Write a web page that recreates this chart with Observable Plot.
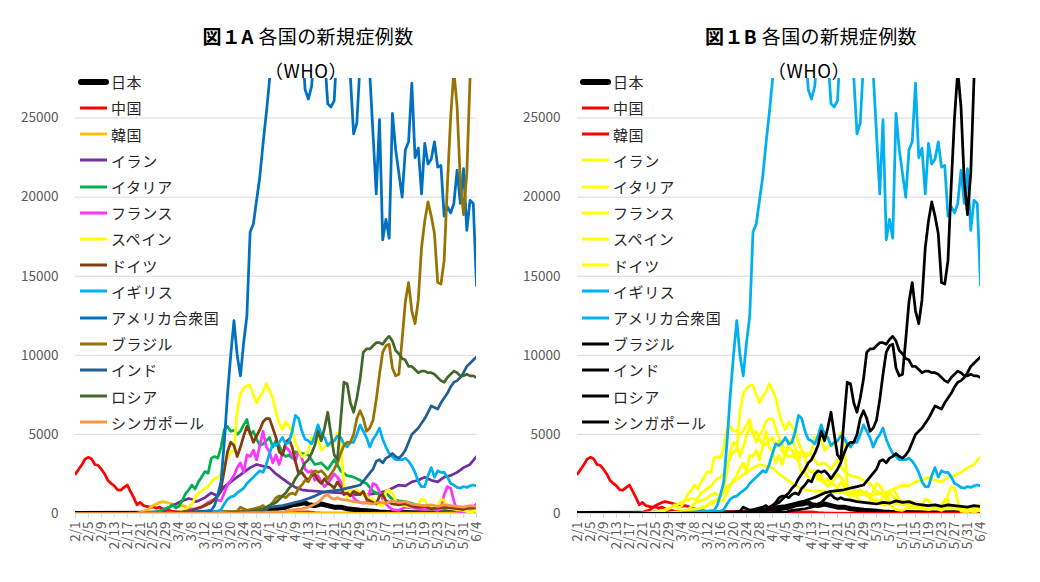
<!DOCTYPE html>
<html><head><meta charset="utf-8">
<script src="https://cdn.jsdelivr.net/npm/d3@7"></script>
<script src="https://cdn.jsdelivr.net/npm/@observablehq/plot@0.6"></script>
<style>
body{margin:0;background:#fff;font-family:"Noto Sans CJK JP",sans-serif;}
#wrap{position:relative;width:1040px;height:582px;overflow:hidden;background:#fff;}
.panel{position:absolute;top:0;}
.title{position:absolute;font-size:19px;color:#000;white-space:nowrap;transform:translate(-50%,-50%);letter-spacing:0.4px;z-index:2;}
.title b{font-weight:700;}
.who{font-size:18.5px;letter-spacing:0.5px;}
.leg{position:absolute;height:20px;display:flex;align-items:center;font-size:15px;letter-spacing:0.6px;color:#262626;white-space:nowrap;z-index:2;}
.leg svg{display:block;margin-right:1px;}
</style>
</head><body>
<div id="wrap"></div>
<script>
// ---------- data ----------
const dayLabels = ["2/1","2/5","2/9","2/13","2/17","2/21","2/25","2/29","3/4","3/8","3/12","3/16","3/20","3/24","3/28","4/1","4/5","4/9","4/13","4/17","4/21","4/25","4/29","5/3","5/7","5/11","5/15","5/19","5/23","5/27","5/31","6/4"];
const yTicks = [0,5000,10000,15000,20000,25000];
const countries = ["日本","中国","韓国","イラン","イタリア","フランス","スペイン","ドイツ","イギリス","アメリカ合衆国","ブラジル","インド","ロシア","シンガポール"];
const colorsA = ["#000000","#FF0000","#FFC000","#7030A0","#00B050","#FF33FF","#FFFF00","#843C0C","#00B0F0","#0070C0","#997300","#255E91","#43682B","#F79646"];
const colorsB = ["#000000","#FF0000","#FF0000","#FFFF00","#FFFF00","#FFFF00","#FFFF00","#FFFF00","#00B0F0","#00B0F0","#000000","#000000","#000000","#000000"];

// [day index from 2/1, new cases]
const japan = [[0,5],[28,10],[36,30],[44,40],[50,60],[54,100],[57,150],[59,200],[61,250],[63,350],[65,400],[67,550],[69,600],[70,650],[71,700],[72,550],[74,500],[76,600],[78,500],[80,400],[82,400],[84,300],[86,250],[88,200],[90,180],[92,150],[94,100],[96,80],[100,60],[104,40],[110,30],[116,40],[120,40],[124,40]];
const china = [[0,2500],[1,2800],[2,3100],[3,3450],[4,3550],[5,3450],[6,3100],[7,3050],[8,2800],[9,2500],[10,2100],[11,1900],[12,1750],[13,1500],[14,1480],[15,1650],[16,1800],[17,1400],[18,1000],[19,550],[20,700],[21,500],[22,450],[23,400],[24,420],[25,330],[26,400],[27,300],[28,200],[29,200],[30,130],[32,120],[34,150],[36,50],[38,40],[40,20],[44,30],[48,60],[52,80],[56,50],[60,60],[64,50],[68,80],[72,100],[74,50],[76,30],[80,20],[90,5],[100,10],[110,5],[124,5]];
const korea = [[0,0],[18,0],[19,20],[20,50],[21,150],[22,200],[23,350],[24,500],[25,600],[26,700],[27,750],[28,700],[29,650],[30,600],[31,500],[32,450],[33,500],[34,450],[35,350],[36,300],[37,250],[38,200],[40,130],[42,100],[44,80],[48,100],[52,100],[56,100],[60,80],[64,50],[70,30],[80,15],[90,10],[100,30],[110,30],[116,40],[120,40],[124,40]];
const iran = [[0,0],[19,0],[22,30],[25,100],[27,200],[29,400],[31,600],[33,800],[35,950],[36,900],[37,750],[38,800],[40,1000],[42,1300],[43,1200],[44,1100],[46,1700],[48,2000],[50,2300],[52,2600],[54,2900],[56,3100],[58,3000],[60,2900],[62,2500],[64,2200],[66,1900],[68,1650],[70,1500],[72,1450],[75,1400],[78,1350],[82,1300],[86,1200],[90,1200],[94,1300],[97,1500],[100,1800],[102,1750],[104,2000],[106,2100],[108,2300],[110,2100],[112,2000],[114,2300],[116,2400],[118,2600],[120,2900],[122,3100],[124,3600]];
const italy = [[0,0],[21,20],[23,70],[25,100],[27,250],[29,400],[30,560],[31,350],[32,470],[33,800],[34,1250],[35,1490],[36,1800],[37,1550],[38,2000],[39,2300],[40,2650],[41,2550],[42,3500],[43,3600],[44,3500],[45,4200],[46,5300],[47,5500],[48,5200],[49,5250],[50,5000],[51,5200],[52,5600],[53,5950],[54,5000],[55,5200],[56,4700],[57,4300],[58,4400],[59,4600],[60,4800],[61,4200],[62,4600],[63,4300],[64,3800],[65,3600],[66,3700],[67,3500],[68,3900],[70,3800],[72,3700],[74,3100],[76,3200],[78,2800],[80,3400],[82,2700],[84,2400],[86,2300],[88,2100],[90,1900],[92,1400],[94,1200],[96,1300],[98,900],[100,800],[102,750],[104,650],[106,500],[108,450],[110,350],[112,400],[114,300],[116,350],[118,300],[120,250],[122,300],[124,200]];
const france = [[0,0],[22,20],[26,30],[29,50],[31,100],[33,150],[35,250],[37,300],[39,400],[41,700],[42,800],[43,900],[44,850],[45,800],[46,1300],[47,1800],[48,2100],[49,2400],[50,2900],[51,3200],[52,2600],[53,3700],[54,3600],[55,4000],[56,3400],[57,4300],[58,5200],[59,4200],[60,3900],[61,3200],[62,3700],[63,3100],[64,3800],[65,4200],[66,4000],[67,3600],[68,3300],[69,4000],[70,3500],[71,2800],[72,2600],[73,2700],[74,2100],[75,2400],[76,2000],[77,1700],[78,1900],[79,2200],[80,2500],[81,2300],[82,2000],[83,1700],[84,1100],[85,1500],[86,1000],[87,800],[88,700],[89,650],[90,700],[91,1400],[92,1900],[93,1800],[94,1400],[95,900],[96,600],[97,400],[98,250],[100,200],[102,400],[104,350],[106,300],[108,250],[110,350],[112,200],[113,300],[114,1200],[115,1700],[116,1600],[117,800],[118,150],[120,100],[122,300],[124,600]];
const spain = [[0,0],[24,0],[28,5],[30,50],[32,100],[34,250],[36,600],[37,1000],[38,1300],[39,1400],[40,1600],[41,1700],[42,2000],[43,2200],[44,2300],[45,2500],[46,3100],[47,3500],[48,3900],[49,4000],[50,6500],[51,7600],[52,7900],[53,8100],[54,8100],[55,7500],[56,7000],[57,7400],[58,7700],[59,8200],[60,7800],[61,7300],[62,6400],[63,5700],[64,5300],[65,5800],[66,5500],[67,5200],[68,4500],[69,4000],[70,3600],[71,3700],[72,4000],[73,4800],[74,4900],[75,4700],[76,4000],[77,4200],[78,4400],[79,4300],[80,4500],[81,5100],[82,4500],[83,1900],[84,1000],[85,1500],[86,1400],[87,1500],[88,1300],[89,1100],[90,1200],[91,800],[92,900],[93,700],[94,550],[95,500],[96,1400],[97,1500],[98,1300],[99,800],[100,600],[102,500],[104,400],[106,600],[107,900],[108,850],[109,500],[110,400],[112,500],[113,900],[114,850],[115,400],[116,300],[118,250],[120,200],[122,100],[124,200]];
const germany = [[0,0],[28,10],[30,50],[33,100],[36,200],[38,350],[40,500],[42,700],[43,900],[44,1100],[45,1600],[46,2700],[47,3900],[48,4500],[49,4300],[50,3600],[51,4200],[52,4900],[53,5500],[54,5100],[55,4500],[56,4900],[57,5300],[58,5800],[59,6000],[60,6000],[61,5400],[62,4800],[63,3900],[64,3700],[65,4500],[66,4700],[67,4200],[68,3300],[69,2500],[70,2600],[71,2300],[72,2100],[73,2400],[74,2500],[75,2100],[76,1900],[77,2200],[78,1900],[79,1800],[80,1600],[81,2000],[82,1700],[83,1200],[84,1300],[85,1100],[86,1400],[87,1300],[88,1200],[89,1400],[90,900],[91,800],[92,700],[93,600],[94,1100],[95,1200],[96,800],[97,700],[98,600],[100,550],[102,600],[104,450],[106,400],[108,450],[110,300],[112,350],[114,400],[116,350],[118,300],[120,250],[122,400],[124,350]];
const uk = [[0,0],[38,30],[40,60],[42,100],[44,150],[45,250],[46,600],[47,900],[48,1050],[49,1100],[50,1300],[51,1450],[52,1600],[53,1900],[54,2100],[55,2300],[56,2500],[57,2700],[58,2600],[59,3100],[60,3800],[61,4400],[62,4300],[63,4500],[64,4800],[65,4400],[66,4500],[67,5200],[68,6200],[69,6000],[70,5200],[71,4700],[72,4600],[73,4400],[74,4900],[75,5600],[76,5000],[77,4800],[78,4300],[79,4500],[80,4600],[81,4900],[82,4800],[83,4400],[84,4200],[85,4500],[86,4500],[87,5000],[88,5600],[89,5200],[90,4800],[91,4200],[92,4700],[93,5000],[94,5400],[95,4700],[96,4200],[97,3800],[98,3600],[99,3400],[100,3400],[101,3400],[102,3500],[103,3300],[104,3000],[105,2600],[106,2000],[107,1700],[108,1700],[109,2400],[110,2900],[111,2300],[112,2700],[113,2600],[114,2600],[115,2300],[116,1900],[117,1800],[118,1650],[119,1600],[120,1700],[121,1650],[122,1750],[123,1800],[124,1750]];
const usa = [[0,0],[30,10],[36,100],[40,150],[42,200],[43,500],[44,1200],[45,2000],[46,4500],[47,7500],[48,10000],[49,12200],[50,10000],[51,8700],[52,10800],[53,12500],[54,17800],[55,18300],[56,19800],[57,21300],[58,23400],[59,25300],[60,27400],[61,30000],[62,32000],[63,31000],[64,32000],[65,33000],[66,32000],[67,31000],[68,33000],[69,32000],[70,30000],[71,26800],[72,26200],[73,27000],[74,29500],[75,31000],[76,30000],[77,29000],[78,25900],[79,25700],[80,26100],[81,30000],[82,30000],[83,31000],[84,29000],[85,27600],[86,24000],[87,24700],[88,28500],[89,30000],[90,29000],[91,27800],[92,24000],[93,20200],[94,24900],[95,17300],[96,18600],[97,17400],[98,25300],[99,23000],[100,21500],[101,20000],[102,23000],[103,23500],[104,27200],[105,22500],[106,23100],[107,20200],[108,23400],[109,22100],[110,22400],[111,23500],[112,21900],[113,22000],[114,18800],[115,19400],[116,19000],[117,19600],[118,21700],[119,19600],[120,21800],[121,17900],[122,19800],[123,19600],[124,14400]];
const brazil = [[0,0],[45,0],[48,50],[50,150],[51,400],[52,300],[53,200],[55,300],[57,400],[58,500],[59,300],[60,500],[61,700],[62,1000],[63,1100],[64,1100],[65,1000],[66,1200],[67,1300],[68,1200],[69,1600],[70,1800],[71,2100],[72,2000],[73,2500],[74,2700],[75,2600],[76,2700],[77,2500],[78,2200],[79,2500],[80,2800],[81,3200],[82,3800],[83,4300],[84,4500],[85,4500],[86,5000],[87,6000],[88,6500],[89,6000],[90,5200],[91,5400],[92,5900],[93,7200],[94,8800],[95,10200],[96,10600],[97,10700],[98,9200],[99,8700],[100,8800],[101,11000],[102,13400],[103,14600],[104,12800],[105,12000],[106,13500],[107,16800],[108,18500],[109,19700],[110,18800],[111,17700],[112,14600],[113,14500],[114,16000],[115,20800],[116,25000],[117,28000],[118,25700],[119,21000],[120,18900],[121,21500],[122,27500],[123,29500],[124,30000]];
const india = [[0,0],[40,0],[45,20],[50,60],[54,100],[56,200],[58,150],[60,400],[62,450],[64,500],[66,600],[68,700],[70,800],[72,950],[74,1100],[76,1300],[78,1400],[80,1450],[82,1500],[84,1600],[86,1700],[88,1800],[90,2300],[92,2800],[93,3300],[94,3400],[95,3200],[96,3500],[97,3600],[98,3800],[99,3600],[100,3500],[101,3700],[102,4000],[103,4500],[104,5000],[105,5200],[106,5400],[107,5700],[108,6000],[109,6400],[110,6800],[111,6700],[112,6600],[113,7000],[114,7300],[115,7600],[116,8000],[117,8300],[118,8400],[119,8600],[120,8900],[121,9300],[122,9500],[123,9700],[124,9900]];
const russia = [[0,0],[45,10],[50,50],[55,150],[58,300],[60,500],[62,700],[63,900],[64,1100],[65,1300],[66,1600],[67,1800],[68,2200],[69,2500],[70,2800],[71,3200],[72,3400],[73,3800],[74,4300],[75,5200],[76,4600],[77,5400],[78,6400],[79,5000],[80,3700],[81,3400],[82,5900],[83,8300],[84,8200],[85,7000],[86,6400],[87,7300],[88,8500],[89,10200],[90,10400],[91,10400],[92,10600],[93,10800],[94,10800],[95,10700],[96,11000],[97,11200],[98,10900],[99,10300],[100,10100],[101,9800],[102,9700],[103,9300],[104,9300],[105,9100],[106,8900],[107,9000],[108,9000],[109,8900],[110,8900],[111,8800],[112,8600],[113,8400],[114,8300],[115,8600],[116,8800],[117,9000],[118,8900],[119,8700],[120,8700],[121,8800],[122,8700],[123,8700],[124,8600]];
const singapore = [[0,0],[40,5],[50,20],[55,50],[60,70],[62,100],[64,80],[66,200],[68,250],[70,300],[72,400],[74,600],[75,700],[76,900],[77,1100],[78,1200],[79,1000],[80,900],[81,1000],[82,900],[84,850],[86,750],[88,700],[90,650],[92,600],[94,700],[96,650],[98,800],[100,700],[102,750],[104,600],[106,550],[108,500],[110,550],[112,450],[114,550],[116,500],[118,450],[120,400],[122,500],[124,450]];

const seriesData = [japan,china,korea,iran,italy,france,spain,germany,uk,usa,brazil,india,russia,singapore];

// ---------- drawing ----------
const wrap = document.getElementById("wrap");
const tickDays = dayLabels.map((_, k) => k * 4);

function makePanel(colors, width, marginRight) {
  const lines = seriesData.map((data, k) => Plot.line(data, {
    x: d => d[0], y: d => d[1], stroke: colors[k],
    strokeWidth: k === 0 ? 5 : 2.75, strokeLinejoin: "round", strokeLinecap: "round", clip: true
  }));
  return Plot.plot({
    width, height: 582,
    marginTop: 78, marginBottom: 69, marginLeft: 75, marginRight,
    style: {background: "transparent", fontFamily: "'Noto Sans CJK JP', sans-serif", fontSize: "13px", overflow: "visible"},
    x: {domain: [0, 124]},
    y: {domain: [0, 27500]},
    marks: [
      Plot.gridY(yTicks, {stroke: "#D9D9D9", strokeOpacity: 1, strokeWidth: 1}),
      Plot.ruleY([0], {stroke: "#D9D9D9", strokeWidth: 1}),
      Plot.axisY(yTicks, {tickFormat: d => String(d), tickSize: 0, tickPadding: 17, fill: "#595959", fontSize: 13.5, label: null}),
      Plot.axisX(tickDays, {tickFormat: d => dayLabels[d / 4], tickRotate: -90, tickSize: 5, tickPadding: 3, stroke: "#D9D9D9", fill: "#595959", fontSize: 13.5, label: null}),
      ...lines
    ]
  });
}

function addPanel(colors, left, width, marginRight, titleLetter, titleX) {
  const div = document.createElement("div");
  div.className = "panel";
  div.style.left = left + "px";
  div.appendChild(makePanel(colors, width, marginRight));
  wrap.appendChild(div);

  const t = document.createElement("div");
  t.className = "title";
  t.style.left = titleX + "px"; t.style.top = "35px";
  t.innerHTML = "<b>図１" + titleLetter + "</b> 各国の新規症例数";
  wrap.appendChild(t);
  const w = document.createElement("div");
  w.className = "title who";
  w.style.left = (titleX - 2) + "px"; w.style.top = "70px";
  w.textContent = "（WHO）";
  wrap.appendChild(w);

  countries.forEach((name, k) => {
    const e = document.createElement("div");
    e.className = "leg";
    e.style.left = (left + 77) + "px";
    e.style.top = (81.7 + 26.2 * k - 10) + "px";
    const thick = k === 0;
    e.innerHTML = `<svg width="33" height="10"><line x1="${thick ? 4 : 3}" y1="5" x2="${thick ? 29 : 30}" y2="5" stroke="${colors[k]}" stroke-width="${thick ? 6 : 3}" stroke-linecap="${thick ? "round" : "butt"}"/></svg><span>${name}</span>`;
    wrap.appendChild(e);
  });
}

addPanel(colorsA, 0, 502, 26, "A", 308);
addPanel(colorsB, 502, 538, 60, "B", 811);
</script>
</body></html>
